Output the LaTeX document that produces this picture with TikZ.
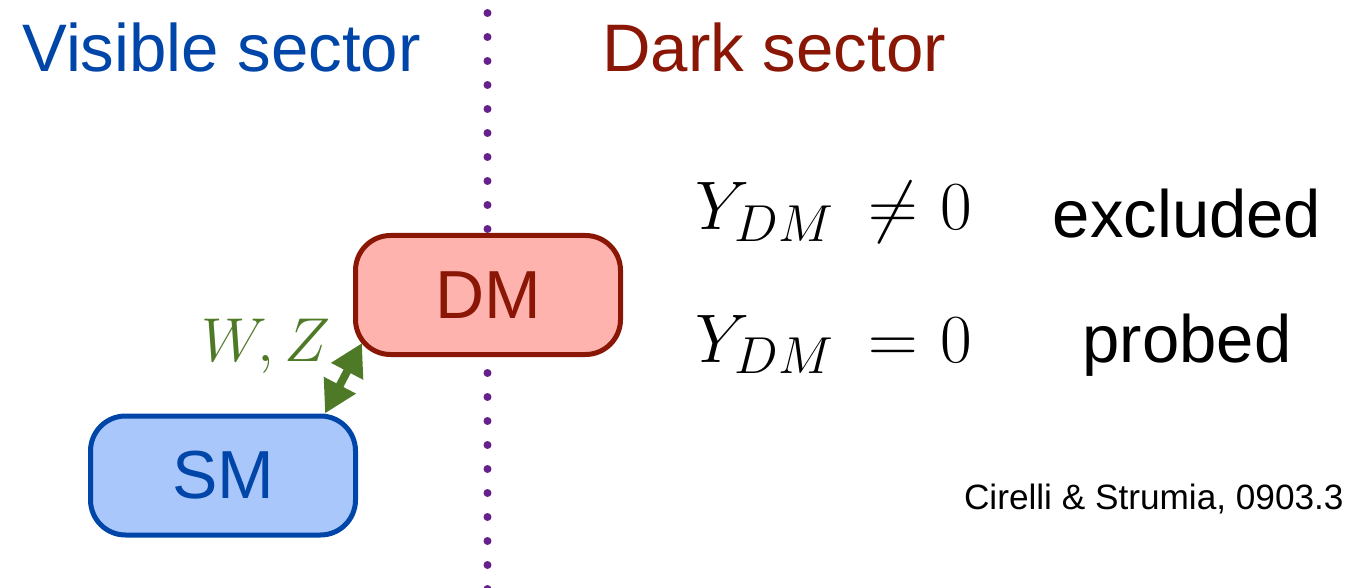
\RequirePackage{fix-cm}
\documentclass[tikz,border=0pt]{standalone}
\usepackage{fontspec}
\setmainfont{Liberation Sans}
\usetikzlibrary{arrows.meta,calc}
\DeclareMathSizes{34.4}{34.4}{26}{18}
\definecolor{visblue}{HTML}{0045A8}
\definecolor{smfill}{HTML}{A9C7FB}
\definecolor{darkred}{HTML}{8A1606}
\definecolor{dmfill}{HTML}{FFB3AE}
\definecolor{wzgreen}{HTML}{4E7A28}
\definecolor{dotpurple}{HTML}{66208C}
\tikzset{
  title/.style={inner sep=0pt, anchor=base west, font=\fontsize{33.6}{40}\selectfont},
  sectorbox/.style={rounded corners=17.5pt, line width=2.5pt, minimum width=132.5pt, minimum height=59.5pt, inner sep=0pt, font=\fontsize{34}{40}\selectfont},
  mathrow/.style={inner sep=0pt, anchor=base west, font=\fontsize{34.4}{40}\selectfont},
  word/.style={inner sep=0pt, anchor=base, font=\fontsize{33.5}{40}\selectfont},
  linkarrow/.style={wzgreen, line width=4pt, {Triangle[length=16pt,width=17pt]}-{Triangle[length=16pt,width=17pt]}},
  divider/.style={dotpurple, line width=4pt, line cap=round, dash pattern=on 0pt off 12pt}
}
\begin{document}
\begin{tikzpicture}[x=0.5pt,y=-0.5pt]
\useasboundingbox (0,0) rectangle (1348,588);
\draw[divider] (487.5,13) -- (487.5,590);
\node[title, text=visblue] (vis) at (22,72) {Visible sector};
\node[title, text=darkred] (dark) at (602,72) {Dark sector};
\node[sectorbox, draw=darkred, fill=dmfill, text=darkred] (dm) at (488,295) {DM};
\node[sectorbox, draw=visblue, fill=smfill, text=visblue] (sm) at (223,475.5) {SM};
\coordinate (smtip) at ($(sm.north east)+(-33,0)$);
\coordinate (dmtip) at ($(dm.south west)+(9,-14)$);
\draw[linkarrow] (smtip) -- (dmtip);
\node[inner sep=0pt, anchor=base west, text=wzgreen, font=\fontsize{31}{40}\selectfont] (wz) at (201,361) {$W,Z$};
\node[mathrow] (m1) at (695,230) {$Y_{DM}\mkern4mu\neq\mkern1mu 0$};
\node[mathrow] (m2) at (695,362) {$Y_{DM}\mkern4mu=\mkern1mu 0$};
\node[word] (ex) at (1187,238) {excluded};
\node[word] (pr) at (1187,362) {probed};
\node[inner sep=0pt, anchor=base east, font=\fontsize{17.6}{20}\selectfont] (cite) at (1344,509) {Cirelli \& Strumia, 0903.3};
\end{tikzpicture}
\end{document}
